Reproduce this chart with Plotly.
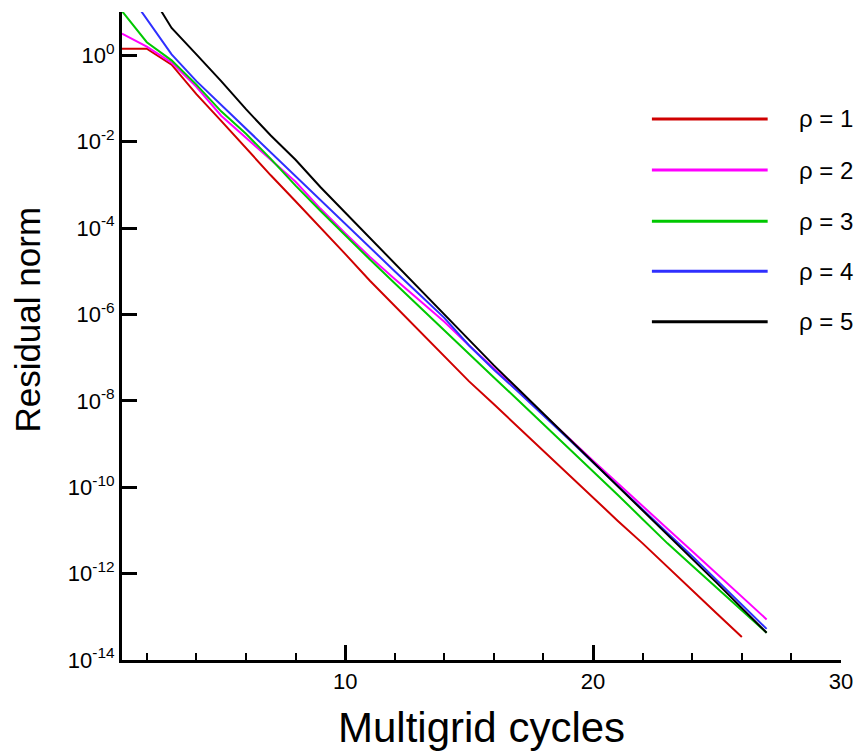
import plotly.graph_objects as go

# Multigrid cycle numbers
cycles = list(range(1, 28))

# log10 of residual norm
log_rho1 = [0.15, 0.15, -0.22, -0.90, -1.52, -2.15, -2.78, -3.38, -3.98, -4.60,
            -5.22, -5.80, -6.40, -6.98, -7.55, -8.08, -8.62, -9.17, -9.70, -10.25,
            -10.78, -11.30, -11.85, -12.40, -12.93, -13.47]
log_rho2 = [0.50, 0.20, -0.17, -0.73, -1.40, -1.92, -2.42, -2.93, -3.55, -4.12,
            -4.67, -5.18, -5.68, -6.17, -6.72, -7.25, -7.78, -8.30, -8.85, -9.39,
            -9.92, -10.44, -10.96, -11.48, -12.00, -12.53, -13.06]
log_rho3 = [1.02, 0.30, -0.12, -0.68, -1.30, -1.82, -2.40, -3.02, -3.60, -4.17,
            -4.73, -5.28, -5.83, -6.37, -6.92, -7.46, -8.00, -8.54, -9.08, -9.62,
            -10.18, -10.74, -11.30, -11.82, -12.34, -12.86, -13.37]
log_rho4 = [1.65, 0.82, 0.02, -0.60, -1.15, -1.72, -2.26, -2.80, -3.35, -3.90,
            -4.46, -5.00, -5.54, -6.08, -6.72, -7.28, -7.80, -8.33, -8.88, -9.43,
            -9.98, -10.52, -11.06, -11.60, -12.16, -12.72, -13.28]
log_rho5 = [2.50, 1.55, 0.63, 0.02, -0.60, -1.25, -1.86, -2.42, -3.05, -3.64,
            -4.23, -4.82, -5.41, -6.00, -6.59, -7.18, -7.74, -8.30, -8.86, -9.42,
            -9.98, -10.53, -11.08, -11.65, -12.22, -12.80, -13.37]

series_names = ["ρ = 1", "ρ = 2", "ρ = 3", "ρ = 4", "ρ = 5"]
series_logs = [log_rho1, log_rho2, log_rho3, log_rho4, log_rho5]
series_colors = ["#d00000", "#ff00ff", "#00c800", "#2f2fff", "#000000"]

# axis ticks
y_tick_exps = [0, -2, -4, -6, -8, -10, -12, -14]
x_tick_vals = [10, 20, 30]

FONT = "Liberation Sans, Arial, sans-serif"

fig = go.Figure()
for name, logs, col in zip(series_names, series_logs, series_colors):
    fig.add_trace(go.Scatter(
        x=cycles[:len(logs)], y=[10 ** v for v in logs], mode="lines", name=name,
        line=dict(color=col, width=2), showlegend=False))

fig.update_layout(
    width=857, height=751,
    margin=dict(l=122, r=16, t=12, b=91),
    paper_bgcolor="white", plot_bgcolor="white",
    font=dict(family=FONT, color="black"),
    showlegend=False,
)

fig.update_xaxes(
    range=[1, 30], showgrid=False, zeroline=False, automargin=False,
    showline=True, linecolor="black", linewidth=3,
    tickmode="array", tickvals=x_tick_vals, ticktext=[str(v) for v in x_tick_vals],
    ticks="inside", ticklen=15, tickwidth=3, tickcolor="black",
    tickfont=dict(size=22, family=FONT),
    minor=dict(dtick=2, tick0=0, ticks="inside", ticklen=7, tickwidth=2, tickcolor="black", showgrid=False),
)
fig.update_yaxes(
    type="log", range=[-14, 1], showgrid=False, zeroline=False, automargin=False,
    showline=True, linecolor="black", linewidth=3,
    tickmode="array", tickvals=[10 ** e for e in y_tick_exps],
    ticktext=[f"10<sup>{e}</sup>" for e in y_tick_exps],
    ticks="inside", ticklen=15, tickwidth=3, tickcolor="black",
    tickfont=dict(size=22, family=FONT),
)

# axis titles
fig.add_annotation(text="Multigrid cycles", xref="paper", yref="paper",
                   x=0.50, y=-0.104, xanchor="center", yanchor="middle",
                   showarrow=False, font=dict(size=42, family=FONT))
fig.add_annotation(text="Residual norm", xref="paper", yref="paper",
                   x=-0.131, y=0.525, xanchor="center", yanchor="middle", textangle=-90,
                   showarrow=False, font=dict(size=35, family=FONT))

# legend drawn as line samples with labels
legend_y = [0.835, 0.756, 0.677, 0.600, 0.522]
for name, col, ly in zip(series_names, series_colors, legend_y):
    fig.add_shape(type="line", xref="paper", yref="paper", x0=0.737, x1=0.898, y0=ly, y1=ly,
                  line=dict(color=col, width=3))
    fig.add_annotation(text=name, xref="paper", yref="paper", x=0.939, y=ly,
                       xanchor="left", yanchor="middle", showarrow=False,
                       font=dict(size=24, family=FONT))

fig.write_html("out.html")
